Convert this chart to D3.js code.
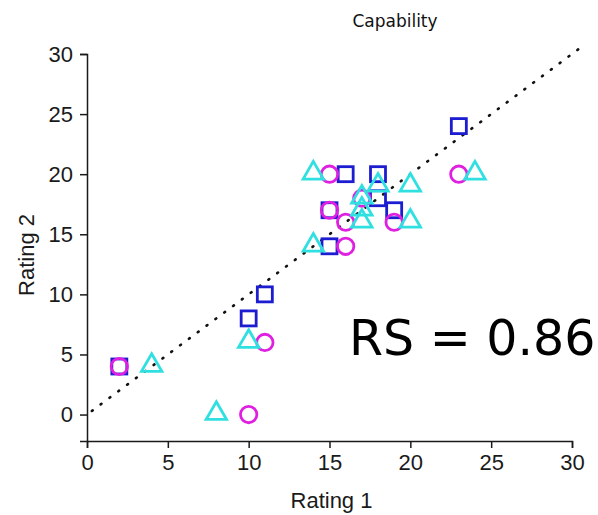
<!DOCTYPE html>
<html>
<head>
<meta charset="utf-8">
<script src="https://cdn.jsdelivr.net/npm/d3@7"></script>
<style>
body { margin: 0; background: #fff; }
.axis text { font-family: "Liberation Sans", Arial, sans-serif; font-size: 22px; fill: #1a1a1a; }
.axis path, .axis line { stroke: #1a1a1a; stroke-width: 1.5; }
</style>
</head>
<body>
<div id="chart"></div>
<script>
// rating pairs
var squares = [[2,4],[10,8],[11,10],[15,14],[15,17],[16,20],[18,20],[18,18],[19,17],[23,24]]
var circles = [[2,4],[10,0],[11,6],[15,20],[15,17],[16,16],[16,14],[17,18],[19,16],[23,20]]
var triangles = [[4,4],[8,0],[10,6],[14,20],[14,14],[17,18],[17,17],[17,16],[18,19],[20,19],[20,16],[24,20]]
var refLine = [[0.3,0.3],[30.5,30.5]]
var xTicks = [0,5,10,15,20,25,30]
var yTicks = [0,5,10,15,20,25,30]

var width = 598, height = 515

var svg = d3.select("#chart").append("svg")
    .attr("width", width)
    .attr("height", height)

var x = d3.scaleLinear().domain([0, 30]).range([87, 572])
var y = d3.scaleLinear().domain([-2.2, 30]).range([441, 54])

// axes
svg.append("g")
    .attr("class", "axis")
    .attr("transform", "translate(0,441)")
    .call(d3.axisBottom(x).tickValues(xTicks).tickSizeOuter(0).tickSize(7).tickPadding(6))

svg.append("g")
    .attr("class", "axis")
    .attr("transform", "translate(87,0)")
    .call(d3.axisLeft(y).tickValues(yTicks).tickSizeOuter(0).tickSize(7).tickPadding(7))

// reference line
var line = d3.line()
    .x(function(d) { return x(d[0]) })
    .y(function(d) { return y(d[1]) })

svg.append("path")
    .datum(refLine)
    .attr("d", line)
    .attr("fill", "none")
    .attr("stroke", "#111")
    .attr("stroke-width", 2.6)
    .attr("stroke-linecap", "round")
    .attr("stroke-dasharray", "1,10")

// squares
svg.selectAll(".sq")
    .data(squares)
    .enter().append("rect")
    .attr("class", "sq")
    .attr("x", function(d) { return x(d[0]) - 7.5 })
    .attr("y", function(d) { return y(d[1]) - 7.5 })
    .attr("width", 15)
    .attr("height", 15)
    .attr("fill", "none")
    .attr("stroke", "#1c1cd0")
    .attr("stroke-width", 2.8)

// circles
svg.selectAll(".ci")
    .data(circles)
    .enter().append("circle")
    .attr("class", "ci")
    .attr("cx", function(d) { return x(d[0]) })
    .attr("cy", function(d) { return y(d[1]) })
    .attr("r", 8.2)
    .attr("fill", "none")
    .attr("stroke", "#e020e0")
    .attr("stroke-width", 2.8)

// triangles
var tri = d3.symbol().type(d3.symbolTriangle).size(180)
svg.selectAll(".tr")
    .data(triangles)
    .enter().append("path")
    .attr("class", "tr")
    .attr("d", tri)
    .attr("transform", function(d) { return "translate(" + x(d[0]) + "," + (y(d[1]) - 1) + ")" })
    .attr("fill", "none")
    .attr("stroke", "#30e0e0")
    .attr("stroke-width", 2.8)

// labels
svg.append("text")
    .attr("x", x(15) + 2)
    .attr("y", 508)
    .attr("text-anchor", "middle")
    .style("font-family", "Liberation Sans, Arial, sans-serif")
    .style("font-size", "22px")
    .style("fill", "#1a1a1a")
    .text("Rating 1")

svg.append("text")
    .attr("transform", "translate(34," + 255 + ") rotate(-90)")
    .attr("text-anchor", "middle")
    .style("font-family", "Liberation Sans, Arial, sans-serif")
    .style("font-size", "22px")
    .style("fill", "#1a1a1a")
    .text("Rating 2")

svg.append("text")
    .attr("x", 395)
    .attr("y", 27)
    .attr("text-anchor", "middle")
    .style("font-family", "DejaVu Sans, Verdana, sans-serif")
    .style("font-size", "17px")
    .style("fill", "#111")
    .text("Capability")

svg.append("text")
    .attr("x", 349)
    .attr("y", 355)
    .style("font-family", "DejaVu Sans, Verdana, sans-serif")
    .style("font-size", "49px")
    .style("fill", "#000")
    .text("RS = 0.86")
</script>
</body>
</html>
